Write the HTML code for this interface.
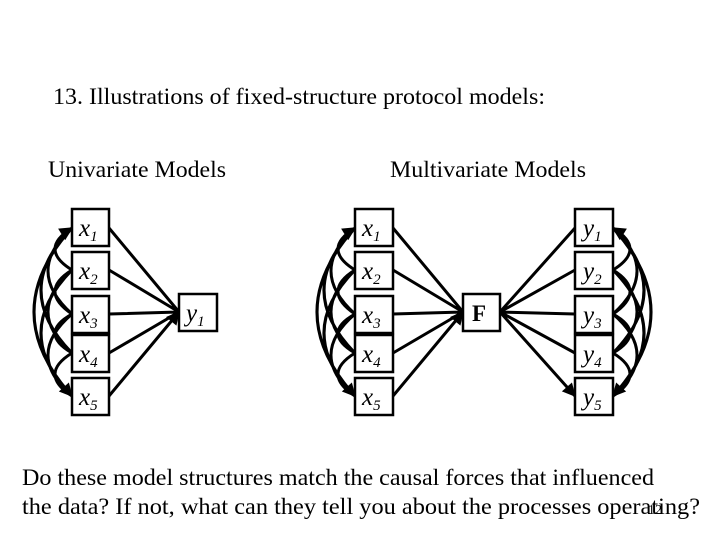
<!DOCTYPE html>
<html><head><style>
body{margin:0;background:#fff;}
svg{display:block}
text{font-family:"Liberation Serif",serif;fill:#000}
</style></head><body>
<svg width="720" height="540" viewBox="0 0 720 540" xmlns="http://www.w3.org/2000/svg">
<defs>
<marker id="a" viewBox="0 0 10 10" refX="9" refY="5" markerWidth="5" markerHeight="4.5" orient="auto-start-reverse" markerUnits="strokeWidth">
<path d="M0,0 L10,5 L0,10 z" fill="#000"/></marker>
</defs>
<text x="53" y="104" font-size="23" textLength="492" lengthAdjust="spacingAndGlyphs">13. Illustrations of fixed-structure protocol models:</text>
<text x="48" y="177" font-size="23" textLength="178" lengthAdjust="spacingAndGlyphs">Univariate Models</text>
<text x="390" y="177" font-size="23" textLength="196" lengthAdjust="spacingAndGlyphs">Multivariate Models</text>
<text x="22" y="485" font-size="23" textLength="632" lengthAdjust="spacingAndGlyphs">Do these model structures match the causal forces that influenced</text>
<text x="22" y="514" font-size="23" textLength="678" lengthAdjust="spacingAndGlyphs">the data? If not, what can they tell you about the processes operating?</text>
<text x="648" y="514" font-size="14">12</text>
<g stroke="#000" stroke-width="3" fill="none" id="g">
<path d="M72,228 Q38,249 72,270 M72,270 Q38,291 72,314 M72,314 Q38,333 72,353 M72,353 Q38,374 72,396 M72,228 Q24,271 72,314 M72,270 Q24,312 72,353 M72,314 Q24,355 72,396 M72,228 Q10,290 72,353 M72,270 Q10,333 72,396 M72,228 Q-4,312 72,396" marker-start="url(#a)" marker-end="url(#a)"/>
<path d="M355,228 Q321,249 355,270 M355,270 Q321,291 355,314 M355,314 Q321,333 355,353 M355,353 Q321,374 355,396 M355,228 Q307,271 355,314 M355,270 Q307,312 355,353 M355,314 Q307,355 355,396 M355,228 Q293,290 355,353 M355,270 Q293,333 355,396 M355,228 Q279,312 355,396" marker-start="url(#a)" marker-end="url(#a)"/>
<path d="M613,228 Q647,249 613,270 M613,270 Q647,291 613,314 M613,314 Q647,333 613,353 M613,353 Q647,374 613,396 M613,228 Q661,271 613,314 M613,270 Q661,312 613,353 M613,314 Q661,355 613,396 M613,228 Q675,290 613,353 M613,270 Q675,333 613,396 M613,228 Q689,312 613,396" marker-start="url(#a)" marker-end="url(#a)"/>
<path d="M109,228 L179,312 M109,270 L179,312 M109,314 L179,312 M109,353 L179,312 M109,396 L179,312" marker-end="url(#a)"/>
<path d="M393,228 L463,312 M393,270 L463,312 M393,314 L463,312 M393,353 L463,312 M393,396 L463,312" marker-end="url(#a)"/>
<path d="M500,312 L575,228 M500,312 L575,270 M500,312 L575,314 M500,312 L575,353 M500,312 L575,396" marker-end="url(#a)"/>
</g>
<g stroke="#000" stroke-width="2.5" fill="#fff">
<rect x="72" y="209" width="37" height="37"/><rect x="72" y="252" width="37" height="37"/><rect x="72" y="296" width="37" height="37"/><rect x="72" y="335" width="37" height="37"/><rect x="72" y="378" width="37" height="37"/>
<rect x="179" y="294" width="38" height="37"/>
<rect x="355" y="209" width="38" height="37"/><rect x="355" y="252" width="38" height="37"/><rect x="355" y="296" width="38" height="37"/><rect x="355" y="335" width="38" height="37"/><rect x="355" y="378" width="38" height="37"/>
<rect x="463" y="294" width="37" height="37"/>
<rect x="575" y="209" width="38" height="37"/><rect x="575" y="252" width="38" height="37"/><rect x="575" y="296" width="38" height="37"/><rect x="575" y="335" width="38" height="37"/><rect x="575" y="378" width="38" height="37"/>
</g>
<g font-size="25" font-style="italic">
<text x="79" y="236">x<tspan font-size="15" dy="5">1</tspan></text>
<text x="79" y="279">x<tspan font-size="15" dy="5">2</tspan></text>
<text x="79" y="323">x<tspan font-size="15" dy="5">3</tspan></text>
<text x="79" y="362">x<tspan font-size="15" dy="5">4</tspan></text>
<text x="79" y="405">x<tspan font-size="15" dy="5">5</tspan></text>
<text x="186" y="321">y<tspan font-size="15" dy="5">1</tspan></text>
<text x="362" y="236">x<tspan font-size="15" dy="5">1</tspan></text>
<text x="362" y="279">x<tspan font-size="15" dy="5">2</tspan></text>
<text x="362" y="323">x<tspan font-size="15" dy="5">3</tspan></text>
<text x="362" y="362">x<tspan font-size="15" dy="5">4</tspan></text>
<text x="362" y="405">x<tspan font-size="15" dy="5">5</tspan></text>
<text x="583" y="236">y<tspan font-size="15" dy="5">1</tspan></text>
<text x="583" y="279">y<tspan font-size="15" dy="5">2</tspan></text>
<text x="583" y="323">y<tspan font-size="15" dy="5">3</tspan></text>
<text x="583" y="362">y<tspan font-size="15" dy="5">4</tspan></text>
<text x="583" y="405">y<tspan font-size="15" dy="5">5</tspan></text>
</g>
<text x="472" y="321" font-size="23" font-weight="bold">F</text>
</svg>
</body></html>
